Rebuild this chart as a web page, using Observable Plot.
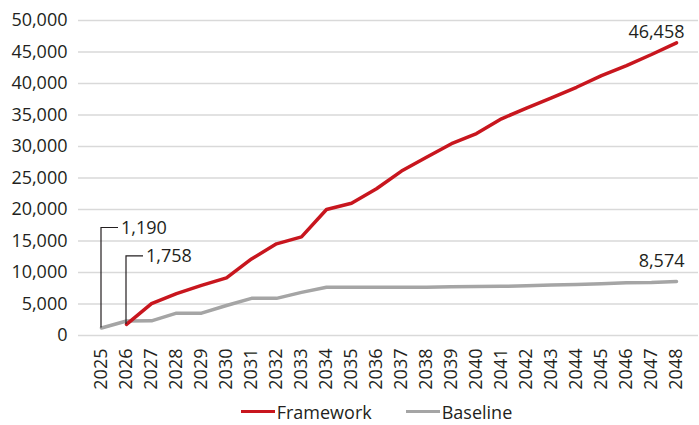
<!DOCTYPE html>
<html>
<head>
<meta charset="utf-8">
<script src="https://cdn.jsdelivr.net/npm/d3@7"></script>
<script src="https://cdn.jsdelivr.net/npm/@observablehq/plot@0.6"></script>
<style>
  html, body { margin: 0; padding: 0; background: #fff; }
  #chart { width: 699px; }
  .legend { display: flex; justify-content: center; align-items: center; gap: 34px;
    font-family: "Open Sans", sans-serif; font-size: 18px; color: #231f20; height: 27px; margin-top: 0px; padding-left: 54px; }
  .legend span.item { display: flex; align-items: center; }
  .legend span.sw { display: inline-block; width: 34px; height: 3.5px; margin-right: 2px; }
</style>
</head>
<body>
<div id="chart"></div>
<script>
const years = ["2025","2026","2027","2028","2029","2030","2031","2032","2033","2034","2035","2036",
  "2037","2038","2039","2040","2041","2042","2043","2044","2045","2046","2047","2048"];
const framework = [null, 1758, 5050, 6650, 7950, 9150, 12150, 14550, 15650, 20000, 21000, 23300,
  26100, 28300, 30450, 32050, 34400, 36100, 37700, 39400, 41250, 42850, 44600, 46458];
const baseline = [1190, 2300, 2330, 3540, 3540, 4760, 5900, 5900, 6850, 7650, 7650, 7650,
  7650, 7650, 7750, 7780, 7800, 7900, 8030, 8100, 8220, 8360, 8420, 8574];
const yTicks = [0, 5000, 10000, 15000, 20000, 25000, 30000, 35000, 40000, 45000, 50000];
const seriesNames = ["Framework", "Baseline"];
const seriesColors = ["#c8161e", "#a5a5a5"];

const rows = [];
years.forEach((yr, i) => {
  if (framework[i] != null) rows.push({year: yr, value: framework[i], series: "Framework"});
  rows.push({year: yr, value: baseline[i], series: "Baseline"});
});
const fmt = d3.format(",");
const fw = rows.filter(d => d.series === "Framework");
const bl = rows.filter(d => d.series === "Baseline");
const callouts = [
  {row: bl[0], rise: 100, run: 17},
  {row: fw[0], rise: 68, run: 17}
];
const endLabels = [
  {row: fw[fw.length - 1], dy: -11},
  {row: bl[bl.length - 1], dy: -20}
];

function calloutMark(index, scales, values, dimensions, context) {
  const g = d3.create("svg:g");
  for (const c of callouts) {
    const x = scales.x(c.row.year);
    const y = scales.y(c.row.value);
    g.append("path")
      .attr("d", `M${x},${y}V${y - c.rise}H${x + c.run}`)
      .attr("fill", "none").attr("stroke", "#231f20").attr("stroke-width", 1.2);
    g.append("text")
      .attr("x", x + c.run + 3).attr("y", y - c.rise)
      .attr("dy", "0.35em")
      .attr("text-anchor", "start")
      .attr("font-family", "Open Sans, sans-serif").attr("font-size", 18)
      .attr("fill", "#231f20")
      .text(fmt(c.row.value));
  }
  return g.node();
}

const chart = Plot.plot({
  width: 699,
  height: 398,
  marginTop: 20,
  marginBottom: 63,
  marginLeft: 78,
  marginRight: 1,
  style: {fontFamily: "Open Sans, sans-serif", fontSize: "18px", color: "#231f20", background: "#fff"},
  x: {type: "point", domain: years, padding: 0.5, label: null, tickSize: 0, tickRotate: -90, tickPadding: 13},
  y: {domain: [0, 50000], ticks: yTicks, tickFormat: fmt, label: null, tickSize: 0, tickPadding: 11},
  color: {domain: seriesNames, range: seriesColors},
  marks: [
    Plot.gridY(yTicks, {stroke: "#d9d9d9", strokeOpacity: 1, strokeWidth: 1.5}),
    Plot.line(bl, {x: "year", y: "value", stroke: seriesColors[1], strokeWidth: 3.5}),
    Plot.line(fw, {x: "year", y: "value", stroke: seriesColors[0], strokeWidth: 3.5}),
    calloutMark,
    Plot.text(endLabels.map(d => d.row), {
      x: "year", y: "value", text: d => fmt(d.value), textAnchor: "end", dx: 8,
      fill: "#231f20", fontSize: 18
    })
  ]
});
document.getElementById("chart").appendChild(chart);
// per-label vertical offsets for the end labels
const endTexts = chart.querySelectorAll('g[aria-label="text"] text');
endTexts.forEach((t, i) => {
  const cur = t.getAttribute("transform") || "";
  t.setAttribute("transform", cur + ` translate(0,${endLabels[i].dy})`);
});

const legend = document.createElement("div");
legend.className = "legend";
seriesNames.forEach((n, i) => {
  const it = document.createElement("span");
  it.className = "item";
  it.innerHTML = `<span class="sw" style="background:${seriesColors[i]}"></span>${n}`;
  legend.appendChild(it);
});
document.getElementById("chart").appendChild(legend);
</script>
</body>
</html>
